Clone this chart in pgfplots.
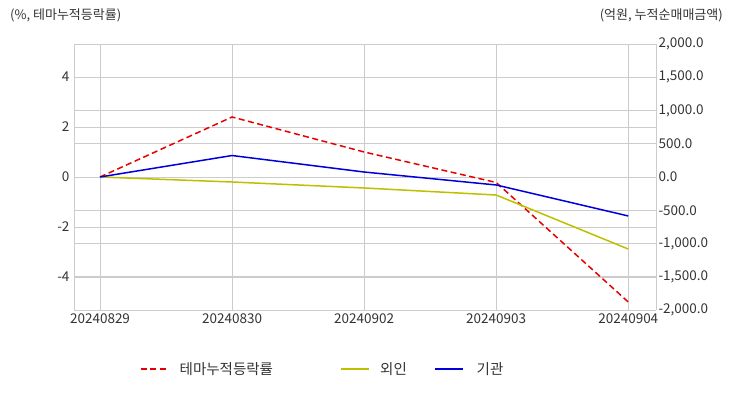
\documentclass[border=0pt]{standalone}
\usepackage{pgfplots}
\pgfplotsset{compat=1.18}
\usepackage{fontspec}
\setmainfont{Noto Sans CJK KR}
\definecolor{gridc}{HTML}{CCCCCC}
\definecolor{ttext}{HTML}{333333}
\definecolor{cred}{HTML}{E80000}
\definecolor{cyel}{HTML}{BFBF00}
\definecolor{cblue}{HTML}{0000DD}
\pgfplotstableread{
x theme
0 0.0
1 2.40
2 1.00
3 -0.22
4 -5.00
}\themedata
\pgfplotstableread{
x foreign inst
0 0 0
1 -75 323
2 -165 75
3 -271 -120
4 -1083 -586
}\flowdata
\begin{document}
\begin{tikzpicture}
\path (0pt,0pt) (732pt,392pt);
\node[anchor=base west, font=\fontsize{13}{15}\selectfont, text=ttext, inner sep=0] at (10pt,372pt) {(\%, 테마누적등락률)};
\node[anchor=base east, font=\fontsize{13}{15}\selectfont, text=ttext, inner sep=0] at (723pt,372pt) {(억원, 누적순매매금액)};
\begin{axis}[
  set layers,
  at={(74pt,82pt)}, anchor=south west,
  width=582pt, height=266pt, scale only axis,
  xmin=-0.197, xmax=4.21,
  ymin=-5.32, ymax=5.32,
  ytick={-4,-2,0,2,4},
  xtick={0,1,2,3,4},
  xticklabels={20240829,20240830,20240902,20240903,20240904},
  grid=major,
  grid style={gridc, line width=0.8pt},
  axis line style={gridc, line width=1pt},
  axis y line*=left,
  axis x line*=bottom,
  tick style={draw=none},
  ticklabel style={font=\fontsize{13.5}{15}\selectfont, text=ttext},
  /pgf/number format/assume math mode=true,
  yticklabel style={xshift=-1pt},
  legend style={at={(0.1134,-0.222)}, anchor=west, draw=none, fill=none, inner sep=0pt,
    font=\fontsize{14.5}{16}\selectfont, text=ttext,
    /tikz/every even column/.append style={column sep=6pt}},
  legend columns=3,
  legend image code/.code={\draw[#1] (0pt,0pt) -- (28pt,0pt); \path (36pt,0pt);},
]
\addplot[cred, line width=1.5pt, dash pattern=on 6pt off 3.5pt] table[x=x,y=theme] {\themedata};
\addlegendentry{\makebox[153pt][l]{테마누적등락률}}
\addlegendimage{cyel, line width=1.5pt}
\addlegendentry{\makebox[46pt][l]{외인}}
\addlegendimage{cblue, line width=1.5pt}
\addlegendentry{\hspace{3pt}기관}
\end{axis}
\begin{axis}[
  set layers,
  at={(74pt,82pt)}, anchor=south west,
  width=582pt, height=266pt, scale only axis,
  xmin=-0.197, xmax=4.21,
  ymin=-2000, ymax=2000,
  ytick={-2000,-1500,...,2000},
  axis y line*=right,
  axis x line=none,
  ymajorgrids,
  grid style={gridc, line width=0.8pt},
  axis line style={gridc, line width=1pt},
  tick style={draw=none},
  ticklabel style={font=\fontsize{13.5}{15}\selectfont, text=ttext},
  /pgf/number format/assume math mode=true,
  yticklabel style={xshift=-1pt, /pgf/number format/.cd, fixed, fixed zerofill, precision=1, 1000 sep={,}},
  scaled y ticks=false,
]
\addplot[cyel, line width=1.5pt] table[x=x,y=foreign] {\flowdata};
\addplot[cblue, line width=1.5pt] table[x=x,y=inst] {\flowdata};
\end{axis}
\end{tikzpicture}
\end{document}
